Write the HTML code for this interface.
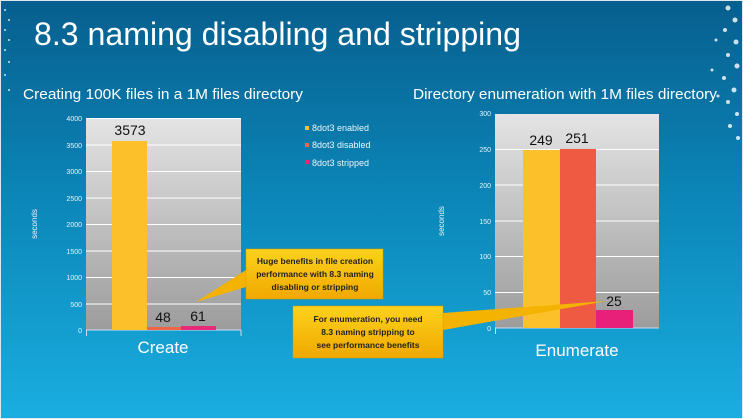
<!DOCTYPE html>
<html><head><meta charset="utf-8"><style>
html,body{margin:0;padding:0;width:743px;height:419px;overflow:hidden}
svg{display:block}
text{font-family:"Liberation Sans",Arial,sans-serif}
</style></head><body>
<svg width="743" height="419" viewBox="0 0 743 419" xmlns="http://www.w3.org/2000/svg">
<defs>
<linearGradient id="bg" x1="0" y1="0" x2="0" y2="1">
<stop offset="0" stop-color="#075f8e"/><stop offset="0.45" stop-color="#0b84b6"/><stop offset="1" stop-color="#1aaee0"/>
</linearGradient>
<linearGradient id="plot" x1="0" y1="0" x2="0" y2="1">
<stop offset="0" stop-color="#e4e4e4"/><stop offset="1" stop-color="#9c9c9c"/>
</linearGradient>
<linearGradient id="call" x1="0" y1="0" x2="0" y2="1">
<stop offset="0" stop-color="#fcd21c"/><stop offset="1" stop-color="#f0a800"/>
</linearGradient>
</defs>
<rect width="743" height="419" fill="url(#bg)"/>
<rect x="0.5" y="0.5" width="742" height="418" fill="none" stroke="#dfe8ee" stroke-width="1"/>
<g fill="#ffffff" opacity="0.8">
<circle cx="728" cy="8" r="2.5"/><circle cx="735" cy="20" r="2.5"/><circle cx="725" cy="30" r="2"/><circle cx="736" cy="42" r="2.5"/><circle cx="728" cy="55" r="2"/><circle cx="737" cy="66" r="2.5"/><circle cx="724" cy="78" r="2"/><circle cx="734" cy="90" r="2.5"/><circle cx="728" cy="102" r="2"/><circle cx="737" cy="114" r="2"/><circle cx="730" cy="126" r="2"/><circle cx="738" cy="138" r="2"/><circle cx="716" cy="40" r="1.5"/><circle cx="712" cy="70" r="1.5"/><circle cx="718" cy="96" r="1.5"/>
<circle cx="5" cy="10" r="1"/><circle cx="9" cy="20" r="1"/><circle cx="5" cy="30" r="1"/><circle cx="9" cy="40" r="1"/><circle cx="5" cy="50" r="1"/><circle cx="9" cy="62" r="1"/><circle cx="5" cy="75" r="1"/><circle cx="9" cy="90" r="1"/>
</g>
<text x="34" y="45" font-size="32" fill="#fff" textLength="487" lengthAdjust="spacingAndGlyphs">8.3 naming disabling and stripping</text>
<text x="23" y="99" font-size="15" fill="#fff" textLength="280" lengthAdjust="spacingAndGlyphs">Creating 100K files in a 1M files directory</text>
<text x="413" y="99" font-size="15" fill="#fff" textLength="304" lengthAdjust="spacingAndGlyphs">Directory enumeration with 1M files directory</text>

<!-- left chart -->
<rect x="86" y="118" width="155" height="212" fill="url(#plot)"/>
<g stroke="#fff" stroke-width="1">
<line x1="86" y1="118.5" x2="241" y2="118.5"/><line x1="86" y1="145" x2="241" y2="145"/><line x1="86" y1="171.5" x2="241" y2="171.5"/><line x1="86" y1="198" x2="241" y2="198"/><line x1="86" y1="224.5" x2="241" y2="224.5"/><line x1="86" y1="251" x2="241" y2="251"/><line x1="86" y1="277.5" x2="241" y2="277.5"/><line x1="86" y1="304" x2="241" y2="304"/>
<line x1="86" y1="330" x2="241" y2="330" stroke="#cde"/><line x1="86.5" y1="330" x2="86.5" y2="336" stroke="#cde"/><line x1="241" y1="330" x2="241" y2="336" stroke="#cde"/>
</g>
<g font-size="7" fill="#e8f4fa" text-anchor="end">
<text x="82" y="121">4000</text><text x="82" y="148">3500</text><text x="82" y="174">3000</text><text x="82" y="201">2500</text><text x="82" y="227">2000</text><text x="82" y="254">1500</text><text x="82" y="280">1000</text><text x="82" y="307">500</text><text x="82" y="333">0</text>
</g>
<text transform="translate(37,224) rotate(-90)" font-size="8" fill="#e8f4fa" text-anchor="middle">seconds</text>
<rect x="112" y="141" width="35" height="189" fill="#fcc12a"/>
<rect x="147" y="327" width="34" height="3" fill="#ee6548"/>
<rect x="181" y="326" width="35" height="4" fill="#e8297a"/>
<g font-size="14" fill="#111" text-anchor="middle">
<text x="130" y="135">3573</text><text x="163" y="322">48</text><text x="198" y="321">61</text>
</g>
<text x="163" y="353" font-size="17" fill="#fff" text-anchor="middle">Create</text>

<!-- legend -->
<rect x="305" y="126" width="4" height="4" fill="#fcc12a"/><rect x="305" y="143" width="4" height="4" fill="#ee6548"/><rect x="305" y="160" width="4" height="4" fill="#e8297a"/>
<g font-size="9" fill="#eaf6fb">
<text x="312" y="131">8dot3 enabled</text><text x="312" y="148">8dot3 disabled</text><text x="312" y="166">8dot3 stripped</text>
</g>

<!-- right chart -->
<rect x="495" y="114" width="164" height="214" fill="url(#plot)"/>
<g stroke="#fff" stroke-width="1">
<line x1="495" y1="149.5" x2="659" y2="149.5"/><line x1="495" y1="185" x2="659" y2="185"/><line x1="495" y1="221" x2="659" y2="221"/><line x1="495" y1="256.5" x2="659" y2="256.5"/><line x1="495" y1="292.5" x2="659" y2="292.5"/>
<line x1="495" y1="328" x2="659" y2="328" stroke="#cde"/><line x1="495.5" y1="328" x2="495.5" y2="334" stroke="#cde"/>
</g>
<g font-size="7" fill="#e8f4fa" text-anchor="end">
<text x="491" y="116">300</text><text x="491" y="152">250</text><text x="491" y="188">200</text><text x="491" y="224">150</text><text x="491" y="259">100</text><text x="491" y="295">50</text><text x="491" y="331">0</text>
</g>
<text transform="translate(444,221) rotate(-90)" font-size="8" fill="#e8f4fa" text-anchor="middle">seconds</text>
<rect x="523" y="150" width="37" height="178" fill="#fcc12a"/>
<rect x="560" y="149" width="36" height="179" fill="#ee5a42"/>
<rect x="596" y="310" width="37" height="18" fill="#e8207a"/>
<g font-size="14" fill="#111" text-anchor="middle">
<text x="541" y="145">249</text><text x="577" y="143">251</text><text x="614" y="306">25</text>
</g>
<text x="577" y="356" font-size="17" fill="#fff" text-anchor="middle">Enumerate</text>

<!-- callouts -->
<polygon points="246,270 196,302 246,287" fill="#f3b300"/>
<rect x="246" y="249" width="137" height="50" fill="url(#call)" stroke="#d89a00" stroke-width="0.5"/>
<g font-size="8.5" font-weight="bold" fill="#222" text-anchor="middle">
<text x="315" y="264">Huge benefits in file creation</text>
<text x="315" y="277">performance with 8.3 naming</text>
<text x="315" y="290">disabling or stripping</text>
</g>
<polygon points="443,313 607,301 443,330" fill="#f3b300"/>
<rect x="293" y="306" width="150" height="52" fill="url(#call)" stroke="#d89a00" stroke-width="0.5"/>
<g font-size="8.5" font-weight="bold" fill="#222" text-anchor="middle">
<text x="368" y="322">For enumeration, you need</text>
<text x="368" y="335">8.3 naming stripping to</text>
<text x="368" y="348">see performance benefits</text>
</g>
</svg>
</body></html>
